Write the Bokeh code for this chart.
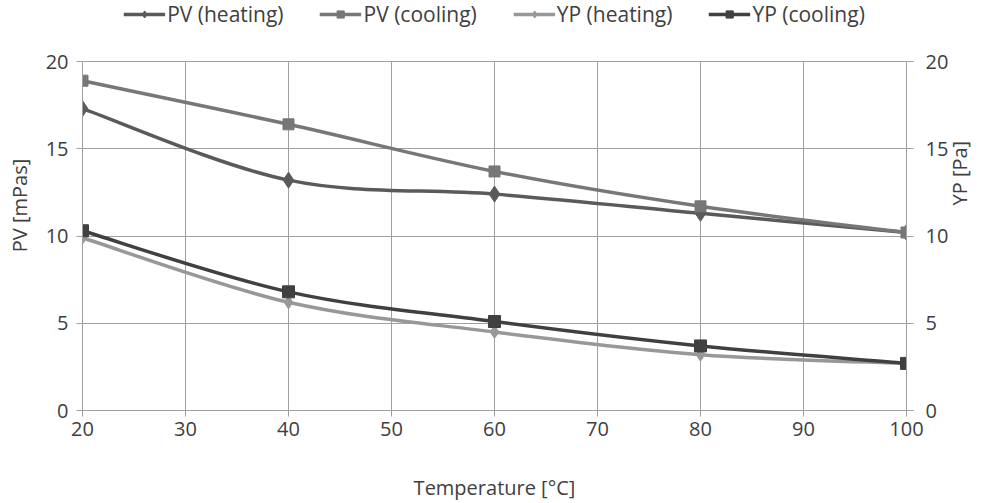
import math
from bokeh.plotting import figure
from bokeh.models import Range1d, LinearAxis, Legend, LegendItem, FixedTicker, ColumnDataSource
from bokeh.embed import file_html
from bokeh.resources import INLINE

temperature = [20, 40, 60, 80, 100]
pv_heating = [17.3, 13.2, 12.4, 11.3, 10.2]
pv_cooling = [18.9, 16.4, 13.7, 11.7, 10.2]
yp_heating = [9.9, 6.2, 4.5, 3.2, 2.7]
yp_cooling = [10.3, 6.8, 5.1, 3.7, 2.7]

x_ticks = [20, 30, 40, 50, 60, 70, 80, 90, 100]
y_ticks = [0, 5, 10, 15, 20]

FONT = "Open Sans"
TXT = "#404040"
GRID = "#a0a0a0"

PLOT_H = 349      # height of the data area in px
LEGEND_BAND = 61  # px reserved above the data area for the legend
Y_MAX = 20
y_top = Y_MAX * (PLOT_H + LEGEND_BAND) / PLOT_H

p = figure(frame_width=824, frame_height=PLOT_H + LEGEND_BAND, output_backend="svg", toolbar_location=None,
           x_range=Range1d(20, 100), y_range=Range1d(0, y_top),
           min_border_left=82, min_border_right=60, min_border_top=0, min_border_bottom=60)
p.outline_line_color = None
p.background_fill_color = "white"
p.extra_y_ranges = {"yp": Range1d(0, y_top)}

def style_axis(ax):
    ax.axis_line_color = GRID
    ax.major_tick_line_color = GRID
    ax.minor_tick_line_color = None
    ax.major_tick_in = 0
    ax.major_tick_out = 6
    ax.major_label_text_font = FONT
    ax.major_label_text_font_size = "20px"
    ax.major_label_text_color = TXT
    ax.axis_label_text_font = FONT
    ax.axis_label_text_font_size = "20px"
    ax.axis_label_text_font_style = "normal"
    ax.axis_label_text_color = TXT

p.xaxis.ticker = FixedTicker(ticks=x_ticks)
p.yaxis.ticker = FixedTicker(ticks=y_ticks)
p.yaxis.bounds = (0, Y_MAX)
p.xaxis.axis_label = "Temperature [°C]"
p.yaxis.axis_label = "PV [mPas]"
style_axis(p.xaxis[0])
style_axis(p.yaxis[0])
p.xaxis.major_label_standoff = 5
p.xaxis.axis_label_standoff = 35
p.yaxis.major_label_standoff = 8
p.yaxis.axis_label_standoff = 10

right = LinearAxis(y_range_name="yp", axis_label="YP [Pa]", ticker=FixedTicker(ticks=y_ticks),
                   bounds=(0, Y_MAX))
style_axis(right)
right.major_tick_out = 7
right.major_label_standoff = 12
right.axis_label_standoff = 8
right.axis_label_orientation = math.pi / 2
p.add_layout(right, "right")

p.xgrid.visible = False
p.ygrid.ticker = FixedTicker(ticks=y_ticks)
p.ygrid.grid_line_color = GRID
p.ygrid.grid_line_width = 1

# vertical grid lines, limited to the data area (0..Y_MAX)
p.segment(x0=x_ticks, y0=[0] * len(x_ticks), x1=x_ticks, y1=[Y_MAX] * len(x_ticks),
          line_color=GRID, line_width=1, level="underlay")


def smooth_segments(xs, ys):
    n = len(xs)
    x0, y0, x1, y1, cx0, cy0, cx1, cy1 = [], [], [], [], [], [], [], []
    for i in range(n - 1):
        im1 = max(i - 1, 0)
        ip2 = min(i + 2, n - 1)
        x0.append(xs[i]); y0.append(ys[i])
        x1.append(xs[i + 1]); y1.append(ys[i + 1])
        cx0.append(xs[i] + (xs[i + 1] - xs[im1]) / 6.0)
        cy0.append(ys[i] + (ys[i + 1] - ys[im1]) / 6.0)
        cx1.append(xs[i + 1] - (xs[ip2] - xs[i]) / 6.0)
        cy1.append(ys[i + 1] - (ys[ip2] - ys[i]) / 6.0)
    return dict(x0=x0, y0=y0, x1=x1, y1=y1, cx0=cx0, cy0=cy0, cx1=cx1, cy1=cy1)


series = [
    ("PV (heating)", pv_heating, "#5a5a5a", "diamond", 16, "default"),
    ("PV (cooling)", pv_cooling, "#777777", "square", 11, "default"),
    ("YP (heating)", yp_heating, "#989898", "diamond", 13, "yp"),
    ("YP (cooling)", yp_cooling, "#404040", "square", 12, "yp"),
]

items = []
for label, vals, color, marker, size, rng in series:
    seg = smooth_segments(temperature, vals)
    bz = p.bezier(x0="x0", y0="y0", x1="x1", y1="y1", cx0="cx0", cy0="cy0", cx1="cx1", cy1="cy1",
                  source=ColumnDataSource(seg), line_color=color, line_width=3.5, y_range_name=rng)
    src = ColumnDataSource(dict(x=temperature, y=vals))
    sc = p.scatter("x", "y", source=src, marker=marker, size=size, fill_color=color, line_color=color,
                   y_range_name=rng)
    items.append(LegendItem(label=label, renderers=[bz, sc]))

legend = Legend(items=items, orientation="horizontal", location="top_center",
                label_text_font=FONT, label_text_font_size="21px", label_text_color=TXT,
                glyph_width=42, glyph_height=18, label_height=18, label_standoff=2, spacing=36,
                padding=0, margin=0, border_line_color=None, background_fill_alpha=0)
p.add_layout(legend)

open("out.html", "w").write(file_html(p, INLINE))
